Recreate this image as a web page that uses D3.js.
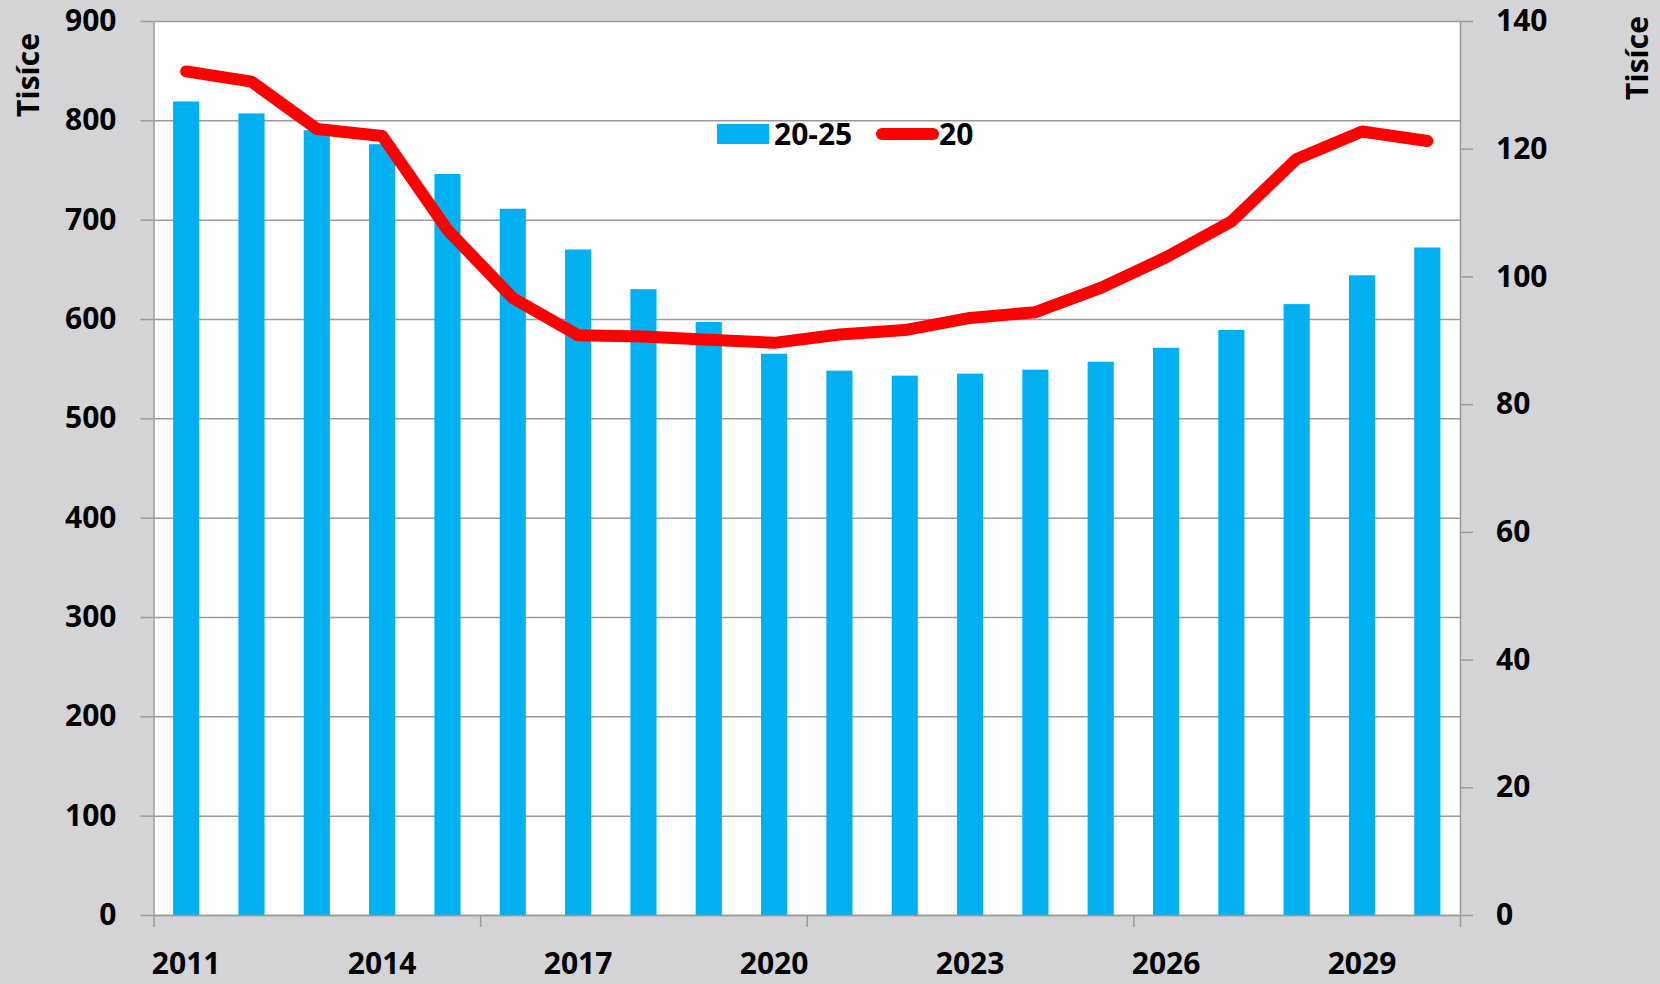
<!DOCTYPE html>
<html>
<head>
<meta charset="utf-8">
<script src="https://cdn.jsdelivr.net/npm/d3@7"></script>
<style>
  body { margin: 0; background: #d4d4d6; }
  svg text { font-family: "Open Sans", sans-serif; font-weight: bold; fill: #000; }
</style>
</head>
<body>
<div class="chart"></div>
<script>
var years = ['2011','2012','2013','2014','2015','2016','2017','2018','2019','2020',
             '2021','2022','2023','2024','2025','2026','2027','2028','2029','2030'];
var age2025 = [819, 807, 790, 776, 746, 711, 670, 630, 597, 565,
               548, 543, 545, 549, 557, 571, 589, 615, 644, 672];
var age20 = [132.1, 130.5, 123.1, 122.0, 107.3, 96.6, 90.8, 90.6, 90.1, 89.6,
             90.9, 91.6, 93.5, 94.4, 98.2, 103.0, 108.6, 118.4, 122.7, 121.2];
var leftTicks = [0, 100, 200, 300, 400, 500, 600, 700, 800, 900];
var rightTicks = [0, 20, 40, 60, 80, 100, 120, 140];
var yearLabels = ['2011', '2014', '2017', '2020', '2023', '2026', '2029'];
var yearTicks = [0, 5, 10, 15, 20];
var seriesNames = ['20-25', '20'];

var W = 1660, H = 984;
var FS = 30;
// plot box (note: "top" is taken by window.top)
var pLeft = 153.5, pRight = 1460, pTop = 21, pBottom = 915;

var svg = d3.select('.chart')
    .append('svg')
    .attr('width', W)
    .attr('height', H);

svg.append('rect')
    .attr('x', 0).attr('y', 0)
    .attr('width', W).attr('height', H)
    .attr('fill', '#d4d4d6');

svg.append('rect')
    .attr('x', pLeft).attr('y', pTop)
    .attr('width', pRight - pLeft).attr('height', pBottom - pTop)
    .attr('fill', '#fff');

var x = d3.scaleBand().domain(years).range([pLeft, pRight])
    .paddingInner(0.6).paddingOuter(0.3);
var xi = d3.scaleLinear().domain([0, years.length]).range([pLeft, pRight]);
var yL = d3.scaleLinear().domain([0, 900]).range([pBottom, pTop]);
var yR = d3.scaleLinear().domain([0, 140]).range([pBottom, pTop]);

// grid
svg.append('g')
    .attr('transform', 'translate(' + pLeft + ',0)')
    .call(d3.axisLeft(yL).tickValues(leftTicks).tickSize(-(pRight - pLeft)).tickFormat(''))
    .call(function(g) { g.select('.domain').remove(); });

// bars
svg.append('g').selectAll('rect')
    .data(age2025)
    .enter().append('rect')
    .attr('x', function(d, i) { return x(years[i]); })
    .attr('y', function(d) { return yL(d); })
    .attr('width', x.bandwidth())
    .attr('height', function(d) { return yL(0) - yL(d); })
    .attr('fill', '#00b0f0');

// left axis
svg.append('g')
    .attr('transform', 'translate(' + pLeft + ',0)')
    .call(d3.axisLeft(yL).tickValues(leftTicks).tickSize(13).tickSizeOuter(0).tickPadding(24));

// right axis
svg.append('g')
    .attr('transform', 'translate(' + pRight + ',0)')
    .call(d3.axisRight(yR).tickValues(rightTicks).tickSize(13).tickSizeOuter(0).tickPadding(23));

// bottom axis: tick marks every 5 years, labels every 3
svg.append('g')
    .attr('transform', 'translate(0,' + pBottom + ')')
    .call(d3.axisBottom(xi).tickValues(yearTicks).tickSize(12).tickSizeOuter(0).tickFormat(''));
var gbl = svg.append('g')
    .attr('transform', 'translate(0,' + pBottom + ')')
    .call(d3.axisBottom(x).tickValues(yearLabels).tickSize(0).tickPadding(38));
gbl.select('.domain').remove();

svg.selectAll('.domain, .tick line')
    .attr('stroke', '#9a9a9a')
    .attr('stroke-width', 1.5);
svg.selectAll('.tick text')
    .attr('font-size', FS)
    .style('font-family', '"Open Sans", sans-serif')
    .style('font-weight', 'bold');

// line
var line = d3.line()
    .x(function(d, i) { return x(years[i]) + x.bandwidth() / 2; })
    .y(function(d) { return yR(d); });
svg.append('path')
    .datum(age20)
    .attr('d', line)
    .attr('fill', 'none')
    .attr('stroke', '#ff0000')
    .attr('stroke-width', 12)
    .attr('stroke-linejoin', 'round')
    .attr('stroke-linecap', 'round');

// axis titles
svg.append('text')
    .attr('transform', 'translate(39,75) rotate(-90)')
    .attr('text-anchor', 'middle')
    .attr('font-size', FS)
    .text('Tisíce');
svg.append('text')
    .attr('transform', 'translate(1648,58) rotate(-90)')
    .attr('text-anchor', 'middle')
    .attr('font-size', FS)
    .text('Tisíce');

// legend
var lg = svg.append('g');
lg.append('rect')
    .attr('x', 717).attr('y', 124)
    .attr('width', 52).attr('height', 20)
    .attr('fill', '#00b0f0');
lg.append('text')
    .attr('x', 774).attr('y', 145)
    .attr('font-size', FS)
    .text(seriesNames[0]);
lg.append('line')
    .attr('x1', 882).attr('x2', 933)
    .attr('y1', 134).attr('y2', 134)
    .attr('stroke', '#ff0000')
    .attr('stroke-width', 12)
    .attr('stroke-linecap', 'round');
lg.append('text')
    .attr('x', 939).attr('y', 145)
    .attr('font-size', FS)
    .text(seriesNames[1]);
</script>
</body>
</html>
